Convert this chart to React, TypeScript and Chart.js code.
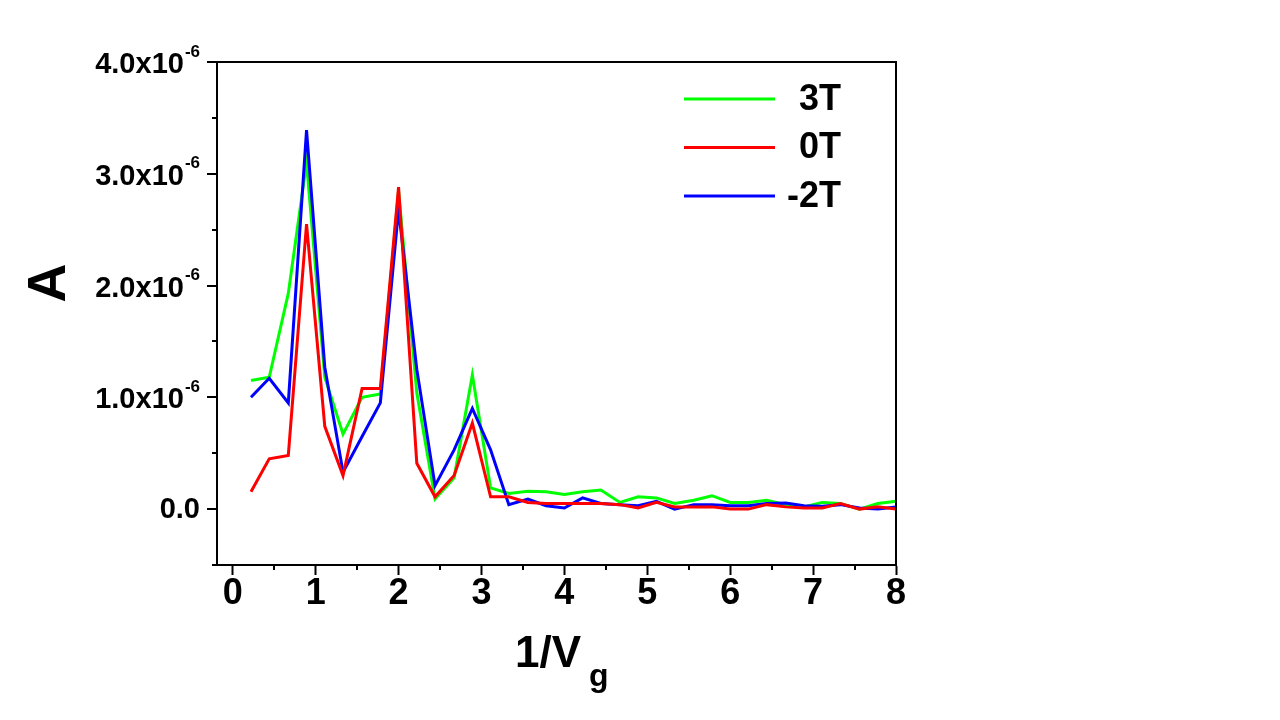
import React, { useEffect, useRef } from 'react';
import { Chart, registerables } from 'chart.js';

Chart.register(...registerables);

// x positions (1/Vg)
const xValues = [
  0.22, 0.44, 0.67, 0.89, 1.11, 1.33, 1.56, 1.78, 2.0, 2.22, 2.44, 2.67,
  2.89, 3.11, 3.33, 3.56, 3.78, 4.0, 4.22, 4.44, 4.67, 4.89, 5.11, 5.33,
  5.56, 5.78, 6.0, 6.22, 6.44, 6.67, 6.89, 7.11, 7.33, 7.56, 7.78, 8.0,
];

// amplitude A for each field
const series3T = [
  1.15e-6, 1.18e-6, 1.93e-6, 3.1e-6, 1.18e-6, 0.67e-6, 1.0e-6, 1.03e-6, 2.85e-6, 1.04e-6, 0.09e-6, 0.28e-6,
  1.2e-6, 0.19e-6, 0.14e-6, 0.16e-6, 0.155e-6, 0.13e-6, 0.155e-6, 0.17e-6, 0.06e-6, 0.11e-6, 0.1e-6, 0.05e-6,
  0.08e-6, 0.12e-6, 0.06e-6, 0.06e-6, 0.08e-6, 0.04e-6, 0.02e-6, 0.06e-6, 0.05e-6, 0.0, 0.05e-6, 0.07e-6,
];
const series0T = [
  0.155e-6, 0.45e-6, 0.48e-6, 2.55e-6, 0.74e-6, 0.3e-6, 1.08e-6, 1.08e-6, 2.88e-6, 0.41e-6, 0.11e-6, 0.3e-6,
  0.77e-6, 0.11e-6, 0.11e-6, 0.06e-6, 0.05e-6, 0.05e-6, 0.05e-6, 0.05e-6, 0.04e-6, 0.01e-6, 0.06e-6, 0.02e-6,
  0.02e-6, 0.02e-6, 0.0, 0.0, 0.04e-6, 0.02e-6, 0.01e-6, 0.01e-6, 0.05e-6, 0.0, 0.02e-6, 0.0,
];
const seriesMinus2T = [
  1.0e-6, 1.17e-6, 0.95e-6, 3.39e-6, 1.27e-6, 0.33e-6, 0.65e-6, 0.95e-6, 2.68e-6, 1.25e-6, 0.21e-6, 0.53e-6,
  0.9e-6, 0.53e-6, 0.04e-6, 0.09e-6, 0.03e-6, 0.01e-6, 0.1e-6, 0.05e-6, 0.04e-6, 0.03e-6, 0.07e-6, 0.0,
  0.04e-6, 0.04e-6, 0.03e-6, 0.03e-6, 0.05e-6, 0.055e-6, 0.03e-6, 0.025e-6, 0.04e-6, 0.01e-6, 0.0, 0.02e-6,
];

const seriesLabels = ['3T', '0T', '-2T'];
const seriesColors = ['#00ff00', '#ff0000', '#0000ff'];
const seriesOrder = [2, 0, 1];

const xTickValues = [0, 1, 2, 3, 4, 5, 6, 7, 8];
const xMinorTickValues = [0.5, 1.5, 2.5, 3.5, 4.5, 5.5, 6.5, 7.5];
const yTickValues = [0, 1e-6, 2e-6, 3e-6, 4e-6];
const yTickMantissas = ['0.0', '1.0', '2.0', '3.0', '4.0'];
const yMinorTickValues = [-0.5e-6, 0.5e-6, 1.5e-6, 2.5e-6, 3.5e-6];
const yExponent = '-6';
const xTitleMain = '1/V';
const xTitleSub = 'g';
const yTitle = 'A';

const FONT = "'Liberation Sans', Arial, Helvetica, sans-serif";

const decorPlugin = {
  id: 'decor',
  afterDraw(chart: any) {
    const ctx = chart.ctx as CanvasRenderingContext2D;
    const { left, right, top, bottom } = chart.chartArea;
    const xs = chart.scales.x;
    const ys = chart.scales.y;
    ctx.save();
    ctx.strokeStyle = '#000';
    ctx.lineWidth = 2;
    // top and right frame
    ctx.beginPath();
    ctx.moveTo(left, top);
    ctx.lineTo(right, top);
    ctx.lineTo(right, bottom);
    ctx.stroke();
    // y ticks
    ctx.beginPath();
    yTickValues.forEach((v) => {
      const y = Math.round(ys.getPixelForValue(v));
      ctx.moveTo(left - 10, y);
      ctx.lineTo(left, y);
    });
    yMinorTickValues.forEach((v) => {
      const y = Math.round(ys.getPixelForValue(v));
      ctx.moveTo(left - 5, y);
      ctx.lineTo(left, y);
    });
    // x minor ticks
    xMinorTickValues.forEach((v) => {
      const x = Math.round(xs.getPixelForValue(v));
      ctx.moveTo(x, bottom);
      ctx.lineTo(x, bottom + 5);
    });
    ctx.stroke();

    // y tick labels with superscript exponent
    ctx.fillStyle = '#000';
    ctx.textBaseline = 'middle';
    const rightEdge = left - 17;
    yTickValues.forEach((v, i) => {
      const y = ys.getPixelForValue(v);
      if (v === 0) {
        ctx.font = `bold 29px ${FONT}`;
        ctx.textAlign = 'right';
        ctx.fillText(yTickMantissas[i], rightEdge, y + 1);
      } else {
        ctx.font = `bold 17px ${FONT}`;
        ctx.textAlign = 'right';
        const supW = ctx.measureText(yExponent).width;
        ctx.fillText(yExponent, rightEdge, y - 10);
        ctx.font = `bold 29px ${FONT}`;
        ctx.fillText(yTickMantissas[i] + 'x10', rightEdge - supW - 1, y + 3);
      }
    });

    // y title
    ctx.save();
    ctx.translate(50, 283);
    ctx.rotate(-Math.PI / 2);
    ctx.font = `bold 54px ${FONT}`;
    ctx.textAlign = 'center';
    ctx.textBaseline = 'middle';
    ctx.fillText(yTitle, 0, 0);
    ctx.restore();

    // x title with subscript
    ctx.textAlign = 'left';
    ctx.textBaseline = 'alphabetic';
    ctx.font = `bold 44px ${FONT}`;
    const mainW = ctx.measureText(xTitleMain).width;
    const startX = 515;
    ctx.fillText(xTitleMain, startX, 667);
    ctx.font = `bold 32px ${FONT}`;
    ctx.fillText(xTitleSub, startX + mainW + 8, 686);

    // legend
    chart.data.datasets.forEach((ds: any, i: number) => {
      const y = 99 + i * 48.5;
      ctx.strokeStyle = ds.borderColor;
      ctx.lineWidth = 3;
      ctx.beginPath();
      ctx.moveTo(684, y);
      ctx.lineTo(775, y);
      ctx.stroke();
      ctx.fillStyle = '#000';
      ctx.font = `bold 36px ${FONT}`;
      ctx.textAlign = 'right';
      ctx.textBaseline = 'middle';
      ctx.fillText(ds.label, 841, y + 1);
    });
    ctx.restore();
  },
};

export default function App() {
  const canvasRef = useRef<HTMLCanvasElement | null>(null);

  useEffect(() => {
    if (!canvasRef.current) return;
    const allSeries = [series3T, series0T, seriesMinus2T];
    const chart = new Chart(canvasRef.current, {
      type: 'line',
      data: {
        datasets: allSeries.map((s, i) => ({
          label: seriesLabels[i],
          data: xValues.map((x, j) => ({ x, y: s[j] })),
          borderColor: seriesColors[i],
          backgroundColor: seriesColors[i],
          borderWidth: 3,
          pointRadius: 0,
          tension: 0,
          fill: false,
          order: seriesOrder[i],
        })),
      },
      options: {
        animation: false,
        responsive: false,
        devicePixelRatio: 1,
        layout: { padding: { left: 0, top: 62, right: 384, bottom: 0 } },
        plugins: {
          legend: { display: false },
          tooltip: { enabled: false },
        },
        scales: {
          x: {
            type: 'linear',
            min: -0.19,
            max: 8,
            afterBuildTicks: (scale: any) => {
              scale.ticks = xTickValues.map((v) => ({ value: v }));
            },
            afterFit: (scale: any) => {
              scale.height = 720 - 565;
            },
            ticks: {
              autoSkip: false,
              maxRotation: 0,
              color: '#000',
              padding: 1,
              font: { family: FONT, size: 36, weight: 'bold', lineHeight: 1 },
              callback: (v: any) => String(v),
            },
            grid: {
              display: true,
              drawOnChartArea: false,
              drawTicks: true,
              tickLength: 10,
              tickWidth: 2,
              tickColor: '#000',
            },
            border: { display: true, color: '#000', width: 2 },
          },
          y: {
            type: 'linear',
            min: -0.5e-6,
            max: 4e-6,
            afterFit: (scale: any) => {
              scale.width = 217;
            },
            ticks: { display: false },
            grid: { display: false },
            border: { display: true, color: '#000', width: 2 },
          },
        },
      },
      plugins: [decorPlugin],
    });
    return () => chart.destroy();
  }, []);

  return (
    <div style={{ position: 'fixed', left: 0, top: 0, width: 1280, height: 720, background: '#fff' }}>
      <canvas ref={canvasRef} width={1280} height={720} style={{ width: 1280, height: 720, display: 'block' }} />
    </div>
  );
}
